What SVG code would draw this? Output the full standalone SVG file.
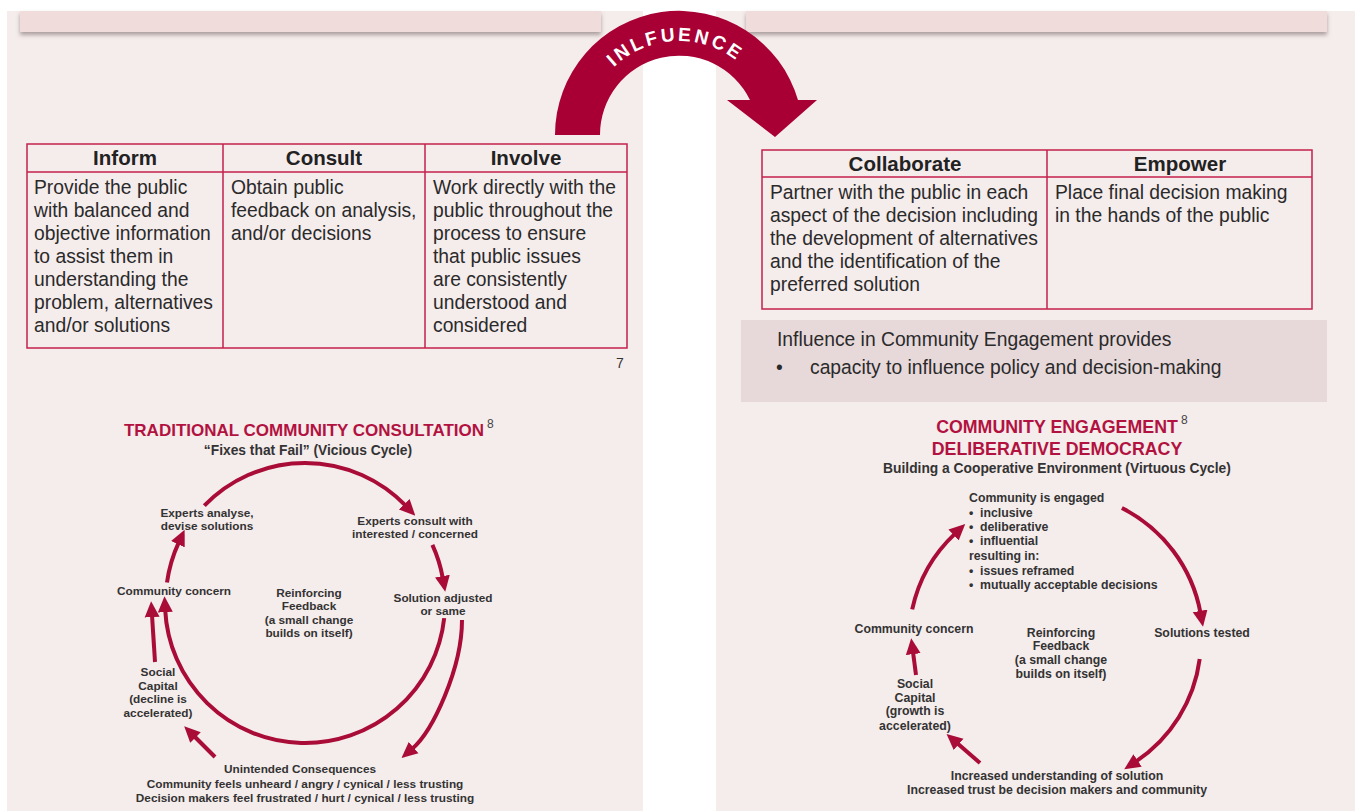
<svg xmlns="http://www.w3.org/2000/svg" width="1355" height="811" viewBox="0 0 1355 811">
  <defs>
    <style>
      .panel { fill: #f5ecec; }
      .bar { fill: #f1dcdc; }
      .tbl { fill: none; stroke: #c4204c; stroke-width: 1.5; }
      .th { font-family: "Liberation Sans", Arial, sans-serif; font-size: 20.5px; font-weight: bold; fill: #222; text-anchor: middle; }
      .td { font-family: "Liberation Sans", Arial, sans-serif; font-size: 19.3px; fill: #2a2a2a; }
      .lbl { font-family: "Liberation Sans", Arial, sans-serif; font-size: 11.8px; font-weight: bold; fill: #333; text-anchor: middle; }
      .lbl-r { font-family: "Liberation Sans", Arial, sans-serif; font-size: 12.3px; font-weight: bold; fill: #333; text-anchor: middle; }
      .lbl-l { font-family: "Liberation Sans", Arial, sans-serif; font-size: 12.3px; font-weight: bold; fill: #333; }
      .sub { font-family: "Liberation Sans", Arial, sans-serif; font-size: 13.8px; font-weight: bold; fill: #333; text-anchor: middle; }
      .ttl { font-family: "Liberation Sans", Arial, sans-serif; font-weight: bold; fill: #b2123f; text-anchor: middle; }
      .sup { font-family: "Liberation Sans", Arial, sans-serif; font-size: 12px; fill: #444; }
      .arr { fill: none; stroke: #a80c37; stroke-width: 4; marker-end: url(#head); }
    </style>
    <marker id="head" markerUnits="userSpaceOnUse" markerWidth="16" markerHeight="16" viewBox="0 0 15 14" refX="2" refY="7" orient="auto">
      <path d="M0,0 L15,7 L0,14 Z" fill="#a80c37"/>
    </marker>
    <filter id="shadow" x="-5%" y="-50%" width="110%" height="250%">
      <feDropShadow dx="0" dy="3" stdDeviation="2" flood-color="#7a6a6a" flood-opacity="0.6"/>
    </filter>
    <path id="arcText" d="M585,135 A94,94 0 0 1 773,135"/>
  </defs>

  <!-- page background and the two panels -->
  <rect width="1355" height="811" fill="#ffffff"/>
  <rect class="panel" x="7" y="11" width="636" height="800"/>
  <rect class="panel" x="716" y="11" width="639" height="800"/>

  <!-- header bars -->
  <rect class="bar" x="20" y="11" width="581" height="21" filter="url(#shadow)"/>
  <rect class="bar" x="746" y="11" width="581" height="21" filter="url(#shadow)"/>

  <!-- curved arrow carrying the label -->
  <g id="influence-arrow">
    <path d="M555,135 A124,124 0 0 1 798,100 L817,100 L775,137 L727,100 L750,100 A79,79 0 0 0 600,135 Z" fill="#a80034"/>
    <text font-family="'Liberation Sans', Arial, sans-serif" font-size="19" font-weight="bold" fill="#ffffff" letter-spacing="3" text-anchor="middle">
      <textPath href="#arcText" startOffset="48.6%">INLFUENCE</textPath>
    </text>
  </g>

  <!-- left table: Inform / Consult / Involve -->
  <g id="table-left">
    <rect class="tbl" x="27" y="144" width="600" height="204"/>
    <line class="tbl" x1="27" y1="172" x2="627" y2="172"/>
    <line class="tbl" x1="223" y1="144" x2="223" y2="348"/>
    <line class="tbl" x1="425" y1="144" x2="425" y2="348"/>
    <text class="th" x="125" y="165">Inform</text>
    <text class="th" x="324" y="165">Consult</text>
    <text class="th" x="526" y="165">Involve</text>
    <text class="td" x="34" y="194">Provide the public</text>
    <text class="td" x="34" y="217">with balanced and</text>
    <text class="td" x="34" y="240">objective information</text>
    <text class="td" x="34" y="263">to assist them in</text>
    <text class="td" x="34" y="286">understanding the</text>
    <text class="td" x="34" y="309">problem, alternatives</text>
    <text class="td" x="34" y="332">and/or solutions</text>
    <text class="td" x="231" y="194">Obtain public</text>
    <text class="td" x="231" y="217">feedback on analysis,</text>
    <text class="td" x="231" y="240">and/or decisions</text>
    <text class="td" x="433" y="194">Work directly with the</text>
    <text class="td" x="433" y="217">public throughout the</text>
    <text class="td" x="433" y="240">process to ensure</text>
    <text class="td" x="433" y="263">that public issues</text>
    <text class="td" x="433" y="286">are consistently</text>
    <text class="td" x="433" y="309">understood and</text>
    <text class="td" x="433" y="332">considered</text>
    <text x="616" y="368" font-family="'Liberation Sans', Arial, sans-serif" font-size="14" fill="#333">7</text>
  </g>

  <!-- right table: Collaborate / Empower -->
  <g id="table-right">
    <rect class="tbl" x="762" y="150" width="550" height="159"/>
    <line class="tbl" x1="762" y1="177" x2="1312" y2="177"/>
    <line class="tbl" x1="1047" y1="150" x2="1047" y2="309"/>
    <text class="th" x="905" y="171">Collaborate</text>
    <text class="th" x="1180" y="171">Empower</text>
    <text class="td" x="770" y="199">Partner with the public in each</text>
    <text class="td" x="770" y="222">aspect of the decision including</text>
    <text class="td" x="770" y="245">the development of alternatives</text>
    <text class="td" x="770" y="268">and the identification of the</text>
    <text class="td" x="770" y="291">preferred solution</text>
    <text class="td" x="1055" y="199">Place final decision making</text>
    <text class="td" x="1055" y="222">in the hands of the public</text>
  </g>

  <!-- note box -->
  <g id="note">
    <rect x="741" y="320" width="586" height="82" fill="#e7d8da"/>
    <text class="td" x="777" y="346">Influence in Community Engagement provides</text>
    <text class="td" x="776" y="374">•</text>
    <text class="td" x="810" y="374">capacity to influence policy and decision-making</text>
  </g>

  <!-- left cycle: titles and labels -->
  <g id="vicious-title">
    <text class="ttl" x="304" y="436" font-size="17">TRADITIONAL COMMUNITY CONSULTATION</text>
    <text class="sup" x="487" y="428">8</text>
    <text class="sub" x="308" y="455">“Fixes that Fail” (Vicious Cycle)</text>
  </g>
  <g id="v-experts-analyse">
    <text class="lbl" x="207" y="517">Experts analyse,</text>
    <text class="lbl" x="207" y="530">devise solutions</text>
  </g>
  <g id="v-experts-consult">
    <text class="lbl" x="415" y="525">Experts consult with</text>
    <text class="lbl" x="415" y="538">interested / concerned</text>
  </g>
  <g id="v-solution">
    <text class="lbl" x="443" y="602">Solution adjusted</text>
    <text class="lbl" x="443" y="615">or same</text>
  </g>
  <g id="v-community">
    <text class="lbl" x="174" y="595">Community concern</text>
  </g>
  <g id="v-feedback">
    <text class="lbl" x="309" y="597">Reinforcing</text>
    <text class="lbl" x="309" y="610">Feedback</text>
    <text class="lbl" x="309" y="624">(a small change</text>
    <text class="lbl" x="309" y="637">builds on itself)</text>
  </g>
  <g id="v-social">
    <text class="lbl" x="158" y="676">Social</text>
    <text class="lbl" x="158" y="690">Capital</text>
    <text class="lbl" x="158" y="703">(decline is</text>
    <text class="lbl" x="158" y="717">accelerated)</text>
  </g>
  <g id="v-consequences">
    <text class="lbl" x="300" y="773">Unintended Consequences</text>
    <text class="lbl" x="305" y="788">Community feels unheard / angry / cynical / less trusting</text>
    <text class="lbl" x="305" y="802">Decision makers feel frustrated / hurt / cynical / less trusting</text>
  </g>

  <!-- right cycle: titles and labels -->
  <g id="virtuous-title">
    <text class="ttl" x="1057" y="433" font-size="17.8">COMMUNITY ENGAGEMENT</text>
    <text class="sup" x="1181" y="424">8</text>
    <text class="ttl" x="1057" y="455" font-size="17.8">DELIBERATIVE DEMOCRACY</text>
    <text class="sub" x="1057" y="473">Building a Cooperative Environment (Virtuous Cycle)</text>
  </g>
  <g id="e-engaged">
    <text class="lbl-l" x="969" y="502">Community is engaged</text>
    <text class="lbl-l" x="969" y="517" font-size="8">•</text>
    <text class="lbl-l" x="980" y="517">inclusive</text>
    <text class="lbl-l" x="969" y="531" font-size="8">•</text>
    <text class="lbl-l" x="980" y="531">deliberative</text>
    <text class="lbl-l" x="969" y="545" font-size="8">•</text>
    <text class="lbl-l" x="980" y="545">influential</text>
    <text class="lbl-l" x="969" y="560">resulting in:</text>
    <text class="lbl-l" x="969" y="575" font-size="8">•</text>
    <text class="lbl-l" x="980" y="575">issues reframed</text>
    <text class="lbl-l" x="969" y="589" font-size="8">•</text>
    <text class="lbl-l" x="980" y="589">mutually acceptable decisions</text>
  </g>
  <g id="e-tested">
    <text class="lbl-r" x="1202" y="637">Solutions tested</text>
  </g>
  <g id="e-community">
    <text class="lbl-r" x="914" y="633">Community concern</text>
  </g>
  <g id="e-feedback">
    <text class="lbl-r" x="1061" y="637">Reinforcing</text>
    <text class="lbl-r" x="1061" y="650">Feedback</text>
    <text class="lbl-r" x="1061" y="664">(a small change</text>
    <text class="lbl-r" x="1061" y="678">builds on itself)</text>
  </g>
  <g id="e-social">
    <text class="lbl-r" x="915" y="688">Social</text>
    <text class="lbl-r" x="915" y="702">Capital</text>
    <text class="lbl-r" x="915" y="715">(growth is</text>
    <text class="lbl-r" x="915" y="730">accelerated)</text>
  </g>
  <g id="e-understanding">
    <text class="lbl-r" x="1057" y="780">Increased understanding of solution</text>
    <text class="lbl-r" x="1057" y="794">Increased trust be decision makers and community</text>
  </g>

  <!-- connectors -->
  <g id="connectors">
    <!-- vicious cycle -->
    <path class="arr" d="M204.3,505.7 A140,140 0 0 1 405.7,505.7"/>
    <path class="arr" d="M432.4,544.9 A140,140 0 0 1 442.8,578.2"/>
    <path class="arr" d="M444.2,618.1 A140,140 0 0 1 165.2,610.1"/>
    <path class="arr" d="M462,620 C462,668 433,731 412,749"/>
    <path class="arr" d="M215,757 L194,736"/>
    <path class="arr" d="M155,662 L152,615"/>
    <path class="arr" d="M167,582.5 A140,140 0 0 1 178.8,542.3"/>
    <!-- virtuous cycle -->
    <path class="arr" d="M1121.9,508 A148,148 0 0 1 1200.5,613"/>
    <path class="arr" d="M1199.7,659.1 A146,146 0 0 1 1135.8,761.6"/>
    <path class="arr" d="M980,763 L957,743"/>
    <path class="arr" d="M916,675 L913,652"/>
    <path class="arr" d="M912.2,609.4 A146,146 0 0 1 955.1,533.6"/>
  </g>
</svg>
